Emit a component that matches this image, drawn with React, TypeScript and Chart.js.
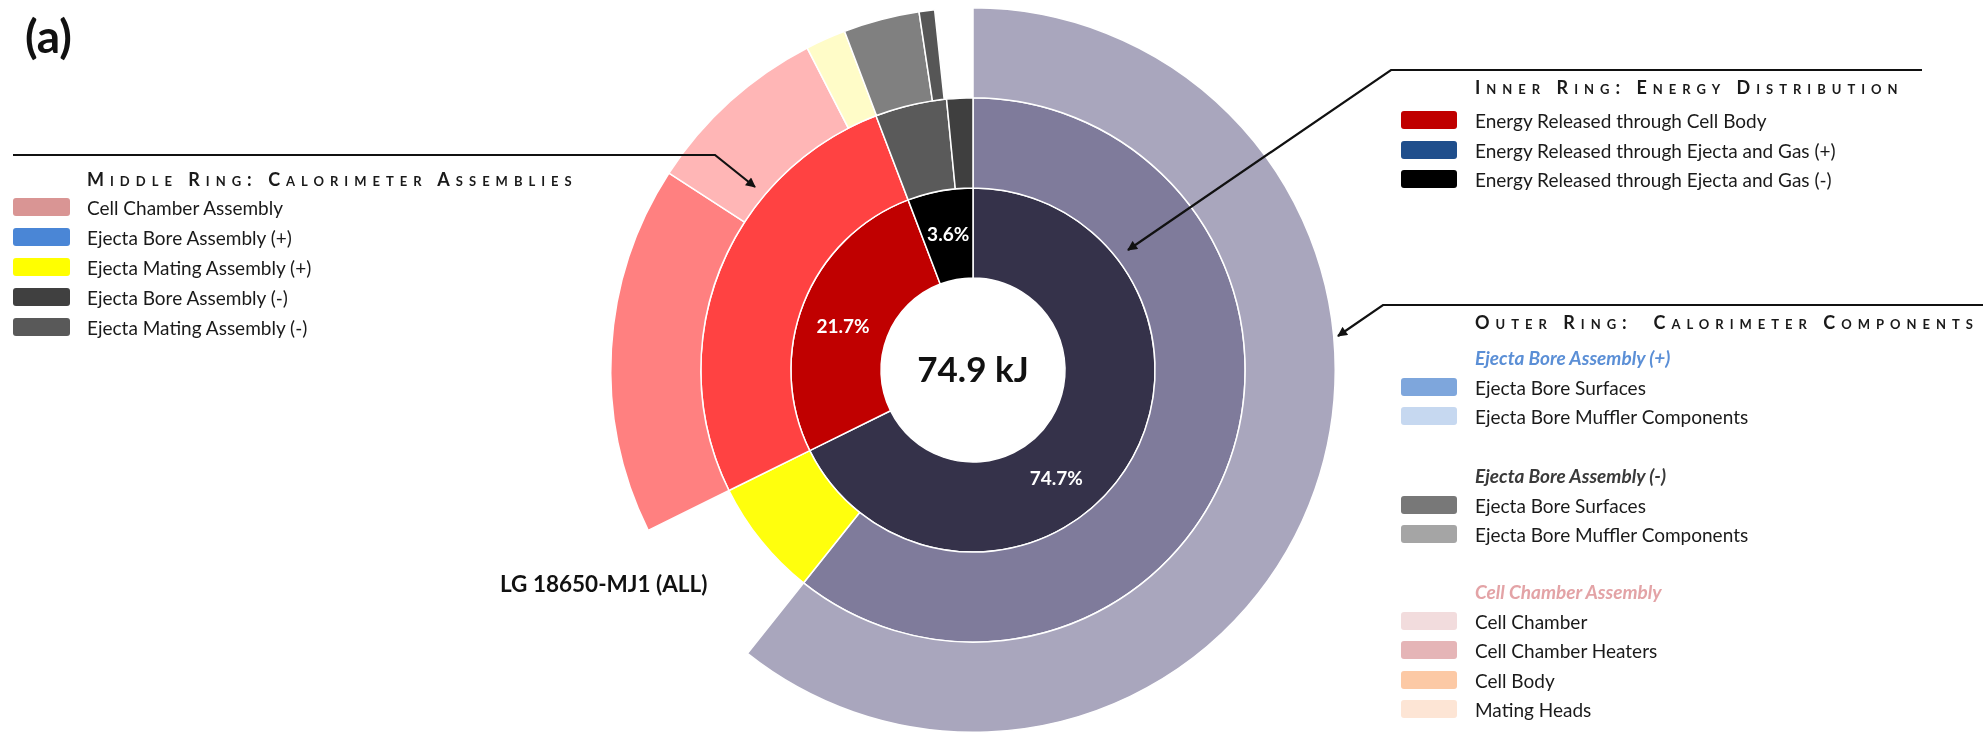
import React, { useEffect, useRef } from 'react';
import { Chart, registerables } from 'chart.js';

Chart.register(...registerables);

const W = 1983;
const H = 733;

// ---- DATA (shares of the full circle, %, clockwise from 12 o'clock) ----
const innerNames = [
  'Energy Released through Ejecta and Gas (+)',
  'Energy Released through Cell Body',
  'Energy Released through Ejecta and Gas (-)',
];
const innerShares = [67.7, 26.5, 5.8];
const innerPctLabels = ['74.7%', '21.7%', '3.6%'];
const innerColors = ['#35324a', '#c00000', '#000000'];

const middleNames = [
  'Ejecta Bore Assembly (+)',
  'Ejecta Mating Assembly (+)',
  'Cell Chamber Assembly',
  'Ejecta Mating Assembly (-)',
  'Ejecta Bore Assembly (-)',
];
const middleShares = [60.7, 7.0, 26.5, 4.25, 1.55];
const middleColors = ['#7f7b9b', '#ffff0d', '#ff4242', '#5a5a5a', '#3f3f3f'];

const outerNames = [
  'Ejecta Bore Components (+)',
  '',
  'Cell Chamber Heaters',
  'Cell Chamber',
  'Mating Heads',
  'Ejecta Bore Surfaces (-)',
  'Ejecta Bore Muffler Components (-)',
  '',
];
const outerShares = [60.7, 7.0, 16.45, 8.28, 1.8, 3.39, 0.69, 1.69];
const outerColors = [
  '#a9a6bd',
  'rgba(255,255,255,0)',
  '#ff8080',
  '#ffb6b6',
  '#fffcc8',
  '#808080',
  '#565656',
  'rgba(255,255,255,0)',
];

const totalEnergy = '74.9 kJ';
const cellLabel = 'LG 18650-MJ1 (ALL)';
const panelLabel = '(a)';

// ---- LEGENDS ----
const middleLegendTitle = 'Middle Ring: Calorimeter Assemblies';
const middleLegendLabels = [
  'Cell Chamber Assembly',
  'Ejecta Bore Assembly (+)',
  'Ejecta Mating Assembly (+)',
  'Ejecta Bore Assembly (-)',
  'Ejecta Mating Assembly (-)',
];
const middleLegendColors = ['#d99594', '#4a86d6', '#ffff00', '#404040', '#595959'];

const innerLegendTitle = 'Inner Ring: Energy Distribution';
const innerLegendLabels = [
  'Energy Released through Cell Body',
  'Energy Released through Ejecta and Gas (+)',
  'Energy Released through Ejecta and Gas (-)',
];
const innerLegendColors = ['#c00000', '#1f4e8c', '#000000'];

const outerLegendTitle = 'Outer Ring:\u00a0 Calorimeter Components';
const outerGroupTitles = ['Ejecta Bore Assembly (+)', 'Ejecta Bore Assembly (-)', 'Cell Chamber Assembly'];
const outerGroupTitleColors = ['#5b8fd6', '#3a3a3a', '#e3a3a6'];
const outerGroupLabels = [
  ['Ejecta Bore Surfaces', 'Ejecta Bore Muffler Components'],
  ['Ejecta Bore Surfaces', 'Ejecta Bore Muffler Components'],
  ['Cell Chamber', 'Cell Chamber Heaters', 'Cell Body', 'Mating Heads'],
];
const outerGroupColors = [
  ['#7ea6dc', '#c6d8f0'],
  ['#787878', '#a5a5a5'],
  ['#f2dcdd', '#e5b5b7', '#fcc9a5', '#fde5d5'],
];

// ---- STYLE ----
const FONT = 'Lato, "Open Sans", "DejaVu Sans", sans-serif';
const labelAnchor = [0.585, 0.47, 0.5];

const ringLabelPlugin = {
  id: 'ringLabels',
  afterDatasetsDraw(chart: any) {
    const ctx = chart.ctx;
    const meta = chart.getDatasetMeta(2);
    ctx.save();
    ctx.textAlign = 'center';
    ctx.textBaseline = 'middle';
    ctx.fillStyle = '#ffffff';
    ctx.font = `bold 19px ${FONT}`;
    meta.data.forEach((arc: any, i: number) => {
      const p = arc.getProps(['x', 'y', 'startAngle', 'endAngle', 'innerRadius', 'outerRadius'], true);
      const a = p.startAngle + (p.endAngle - p.startAngle) * labelAnchor[i];
      const r = (p.innerRadius + p.outerRadius) / 2;
      ctx.fillText(innerPctLabels[i], p.x + r * Math.cos(a), p.y + r * Math.sin(a));
    });
    const c = meta.data[0];
    ctx.fillStyle = '#111111';
    ctx.font = `bold 35px ${FONT}`;
    ctx.fillText(totalEnergy, c.x, c.y + 1);
    ctx.restore();
  },
};

const widths = (colors: string[]) => colors.map((c) => (c.startsWith('rgba') ? 0 : 1.5));

function Swatch({ x, y, w, color }: { x: number; y: number; w: number; color: string }) {
  return (
    <div
      style={{
        position: 'absolute',
        left: x,
        top: y - 9,
        width: w,
        height: 18,
        borderRadius: 3,
        background: color,
      }}
    />
  );
}

function Text({
  x,
  y,
  children,
  size = 19,
  weight = 400,
  color = '#1a1a1a',
  italic = false,
  caps = false,
  spacing = 0,
}: any) {
  return (
    <div
      style={{
        position: 'absolute',
        left: x,
        top: y,
        transform: 'translateY(-50%)',
        lineHeight: 1,
        whiteSpace: 'nowrap',
        fontFamily: FONT,
        fontSize: size,
        fontWeight: weight,
        fontStyle: italic ? 'italic' : 'normal',
        fontVariant: caps ? 'small-caps' : 'normal',
        letterSpacing: spacing,
        color,
      }}
    >
      {children}
    </div>
  );
}

export default function App() {
  const ref = useRef<HTMLCanvasElement>(null);

  useEffect(() => {
    const chart = new Chart(ref.current as HTMLCanvasElement, {
      type: 'doughnut',
      data: {
        labels: outerNames,
        datasets: [
          {
            label: 'Outer ring',
            data: outerShares,
            backgroundColor: outerColors,
            borderColor: '#ffffff',
            borderWidth: widths(outerColors),
          },
          {
            label: 'Middle ring',
            data: middleShares,
            backgroundColor: middleColors,
            borderColor: '#ffffff',
            borderWidth: widths(middleColors),
          },
          {
            label: 'Inner ring',
            data: innerShares,
            backgroundColor: innerColors,
            borderColor: '#ffffff',
            borderWidth: widths(innerColors),
          },
        ],
      } as any,
      options: {
        responsive: false,
        animation: false,
        devicePixelRatio: 1,
        events: [],
        cutout: 92,
        layout: { padding: { left: 610, right: 647, top: 7, bottom: 0 } },
        plugins: {
          legend: { display: false },
          tooltip: { enabled: false },
        },
      } as any,
      plugins: [ringLabelPlugin],
    });
    return () => chart.destroy();
  }, []);

  const outerRows: any[] = [];
  const groupStarts = [357, 475, 591];
  outerGroupTitles.forEach((t, g) => {
    outerRows.push(
      <Text key={'g' + g} x={1475} y={groupStarts[g]} weight={700} italic color={outerGroupTitleColors[g]}>
        {t}
      </Text>
    );
    outerGroupLabels[g].forEach((lab, i) => {
      const y = groupStarts[g] + 29.5 * (i + 1);
      outerRows.push(<Swatch key={'s' + g + i} x={1401} y={y} w={56} color={outerGroupColors[g][i]} />);
      outerRows.push(
        <Text key={'t' + g + i} x={1475} y={y}>
          {lab}
        </Text>
      );
    });
  });

  return (
    <div style={{ position: 'absolute', left: 0, top: 0, width: W, height: H, background: '#fff', overflow: 'hidden' }}>
      <canvas ref={ref} width={W} height={H} style={{ position: 'absolute', left: 0, top: 0 }} />

      <svg width={W} height={H} style={{ position: 'absolute', left: 0, top: 0, pointerEvents: 'none' }}>
        <defs>
          <marker id="ah" viewBox="0 0 10 10" refX="9" refY="5" markerWidth="5" markerHeight="4.5" orient="auto">
            <path d="M0,0 L10,5 L0,10 z" fill="#111" />
          </marker>
        </defs>
        <polyline points="13,155 715,155 755,187" fill="none" stroke="#111" strokeWidth={2.2} markerEnd="url(#ah)" />
        <polyline points="1922,70 1391,70 1128,250" fill="none" stroke="#111" strokeWidth={2.2} markerEnd="url(#ah)" />
        <polyline points="1983,305 1383,305 1338,336" fill="none" stroke="#111" strokeWidth={2.2} markerEnd="url(#ah)" />
      </svg>

      <Text x={25} y={36} size={46} weight={700} color="#111">
        {panelLabel}
      </Text>

      <Text x={87} y={179} size={18} weight={700} caps spacing={6} color="#1a1a1a">
        {middleLegendTitle}
      </Text>
      {middleLegendLabels.map((lab, i) => (
        <React.Fragment key={lab}>
          <Swatch x={13} y={207 + 30 * i} w={57} color={middleLegendColors[i]} />
          <Text x={87} y={207 + 30 * i}>
            {lab}
          </Text>
        </React.Fragment>
      ))}

      <Text x={1475} y={87} size={18} weight={700} caps spacing={6} color="#1a1a1a">
        {innerLegendTitle}
      </Text>
      {innerLegendLabels.map((lab, i) => (
        <React.Fragment key={lab}>
          <Swatch x={1401} y={120 + 29.5 * i} w={56} color={innerLegendColors[i]} />
          <Text x={1475} y={120 + 29.5 * i}>
            {lab}
          </Text>
        </React.Fragment>
      ))}

      <Text x={1475} y={322} size={18} weight={700} caps spacing={6} color="#1a1a1a">
        {outerLegendTitle}
      </Text>
      {outerRows}

      <Text x={500} y={584} size={22.5} weight={700} color="#111">
        {cellLabel}
      </Text>
    </div>
  );
}
